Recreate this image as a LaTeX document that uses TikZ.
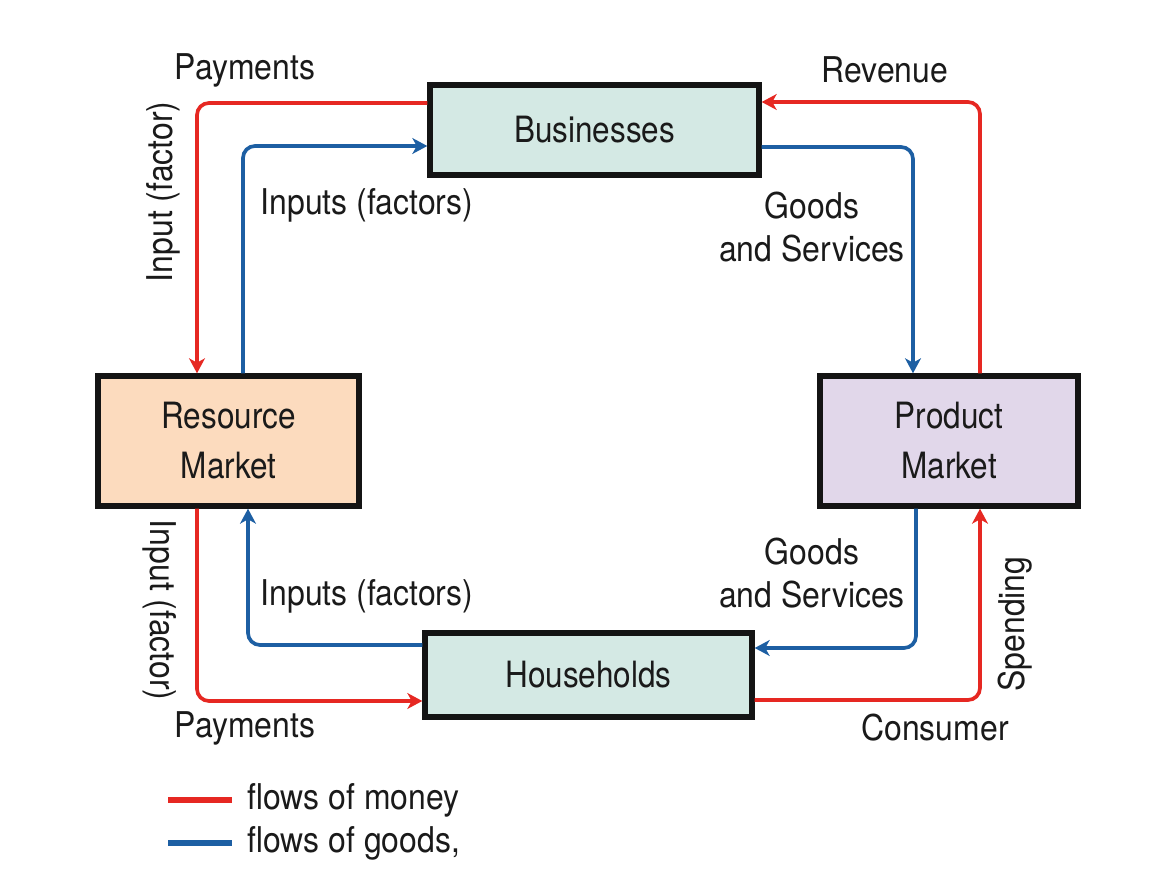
\documentclass[tikz,border=0pt]{standalone}
\usepackage{fontspec}
\setmainfont{TeX Gyre Heros}[FakeStretch=0.9]
\newfontfamily\boxfont{TeX Gyre Heros}[FakeStretch=0.87]
\usetikzlibrary{arrows.meta}
\definecolor{money}{HTML}{E62822}
\definecolor{goods}{HTML}{1D5FA3}
\definecolor{txt}{HTML}{1A1A1A}
\definecolor{tealfill}{HTML}{D4E9E4}
\definecolor{peachfill}{HTML}{FCDBBE}
\definecolor{lavfill}{HTML}{E1D7EA}
\tikzset{
  box/.style={draw=black!92, line width=3.1pt, inner sep=0pt, align=center, text=txt,
    font=\boxfont\fontsize{20.6}{28.4}\selectfont},
  lbl/.style={text=txt, inner sep=0pt, align=center, font=\fontsize{20.2}{24.5}\selectfont},
  flow/.style={line width=2.1pt, rounded corners=0.24cm,
    -{Stealth[length=8.5pt,width=9pt,inset=2.5pt]}},
  mflow/.style={flow, draw=money},
  gflow/.style={flow, draw=goods},
}
\begin{document}
\begin{tikzpicture}[x=0.02cm,y=-0.02cm]
\useasboundingbox[fill=white] (0,0) rectangle (1150,871);
% boxes
\node[box, fill=tealfill, minimum width=6.58cm, minimum height=1.8cm] (bus) at (594.5,130) {Businesses};
\node[box, fill=peachfill, minimum width=5.22cm, minimum height=2.6cm] (res) at (228.5,441) {Resource\\Market};
\node[box, fill=lavfill, minimum width=5.16cm, minimum height=2.6cm] (prod) at (949,441) {Product\\Market};
\node[box, fill=tealfill, minimum width=6.54cm, minimum height=1.68cm] (hh) at (588.5,675) {Households};
% flows
\draw[mflow] (bus.west |- 0,103) -| (res.north -| 197,0);
\draw[gflow] (res.north -| 243,0) |- (bus.west |- 0,146);
\draw[gflow] (bus.east |- 0,147) -| (prod.north -| 913,0);
\draw[mflow] (prod.north -| 980,0) |- (bus.east |- 0,102);
\draw[gflow] (prod.south -| 916,0) |- (hh.east |- 0,648);
\draw[mflow] (hh.east |- 0,700) -| (prod.south -| 980,0);
\draw[gflow] (hh.west |- 0,645) -| (res.south -| 248,0);
\draw[mflow] (res.south -| 197,0) |- (hh.west |- 0,701);
% labels
\node[lbl] (l1) at (245,70) {Payments};
\node[lbl] (l2) at (885,70) {Revenue};
\node[lbl, rotate=90] (l3) at (163,192) {Input (factor)};
\node[lbl] (l4) at (367,205) {Inputs (factors)};
\node[lbl] (l5) at (812,227) {Goods\\and Services};
\node[lbl] (l6) at (812,573) {Goods\\and Services};
\node[lbl] (l7) at (367,596) {Inputs (factors)};
\node[lbl, rotate=-90] (l8) at (160,610) {Input (factor)};
\node[lbl, rotate=90] (l9) at (1015,624) {Spending};
\node[lbl] (l10) at (245,728) {Payments};
\node[lbl] (l11) at (935,728) {Consumer};
% legend
\coordinate (lm1) at (168,800); \coordinate (lm2) at (232,800);
\coordinate (lg1) at (168,843); \coordinate (lg2) at (232,843);
\draw[money, line width=3pt] (lm1) -- (lm2);
\draw[goods, line width=3pt] (lg1) -- (lg2);
\node[lbl, anchor=west] (lt1) at (247,800) {flows of money};
\node[lbl, anchor=west] (lt2) at (247,843) {flows of goods,};
\end{tikzpicture}
\end{document}
